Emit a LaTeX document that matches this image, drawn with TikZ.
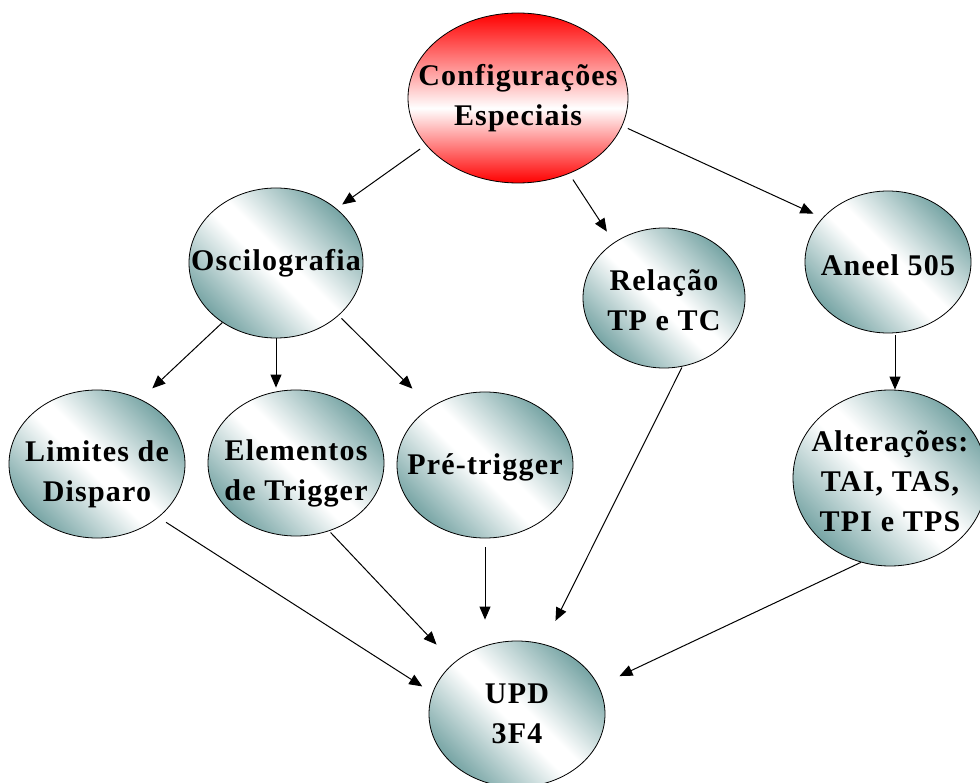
\documentclass[tikz,border=0pt]{standalone}
\usepackage{fontspec}
\setmainfont{Liberation Serif}[LetterSpace=4]
\usetikzlibrary{arrows.meta,shapes.geometric}

\definecolor{bubbleteal}{RGB}{58,124,124}
\definecolor{bubblered}{RGB}{255,0,0}

% diagonal teal-white-teal sheen for the ordinary bubbles
\pgfdeclarehorizontalshading{tealsheen}{100bp}{color(0bp)=(bubbleteal); color(15bp)=(bubbleteal); color(47bp)=(white); color(53bp)=(white); color(85bp)=(bubbleteal); color(100bp)=(bubbleteal)}
% vertical red-white-red sheen for the root bubble
\pgfdeclareverticalshading{redsheen}{100bp}{color(0bp)=(bubblered); color(25bp)=(bubblered); color(47bp)=(white); color(75bp)=(bubblered); color(100bp)=(bubblered)}

\tikzset{
  bubble/.style={ellipse, draw=black, line width=0.8pt, shade, shading=tealsheen,
                 shading angle=45, inner sep=0pt, minimum width=176pt, minimum height=146pt},
  rootbubble/.style={ellipse, draw=black, line width=0.8pt, shade, shading=redsheen,
                 inner sep=0pt, minimum width=220pt, minimum height=170pt},
  caption/.style={font=\bfseries\fontsize{30}{40}\selectfont, align=center, inner sep=0pt},
  link/.style={line width=1pt, -{Triangle[length=13pt,width=11pt]}},
}

\begin{document}
\begin{tikzpicture}[x=1pt,y=-1pt]
  \fill[white] (0,0) rectangle (980,783);
  \useasboundingbox (0,0) rectangle (980,783);

  % nodes
  \node[rootbubble] (cfg) at (518,98) {};
  \node[caption] at (cfg) {Configurações\\Especiais};
  \node[bubble, minimum width=174pt, minimum height=150pt] (osc) at (276,263) {};
  \node[caption] at (osc) {Oscilografia};
  \node[bubble, minimum width=162pt, minimum height=140pt] (rel) at (664,298) {};
  \node[caption] at ([yshift=-2pt]rel.center) {Relação\\TP e TC};
  \node[bubble, minimum width=166pt, minimum height=142pt] (ane) at (888,262) {};
  \node[caption] at ([yshift=-3pt]ane.center) {Aneel 505};
  \node[bubble, minimum height=148pt] (lim) at (97,464) {};
  \node[caption] at ([yshift=-10pt]lim.center) {Limites de\\Disparo};
  \node[bubble] (ele) at (296,463) {};
  \node[caption] at ([yshift=-10pt]ele.center) {Elementos\\de Trigger};
  \node[bubble] (pre) at (485,465) {};
  \node[caption] at ([yshift=-2pt]pre.center) {Pré-trigger};
  \node[bubble, minimum width=194pt, minimum height=176pt] (alt) at (890,478) {};
  \node[caption] at ([yshift=-3pt]alt.center) {Alterações:\\TAI, TAS,\\TPI e TPS};
  \node[bubble] (upd) at (517,714) {};
  \node[caption] at (upd) {UPD\\3F4};

  % connectors
  \draw[link, shorten <=7pt, shorten >=7pt]  (cfg.207) -- (osc.42);
  \draw[link, shorten <=7pt, shorten >=13pt] (cfg.-56) -- (rel.132);
  \draw[link, shorten <=6pt, shorten >=10pt] (cfg.-15) -- (ane.146);

  \draw[link, shorten >=16pt] (osc.228) -- (lim.56);
  \draw[link, shorten >=2pt]  (osc.south) -- (osc.south |- ele.north);
  \draw[link, shorten <=4pt, shorten >=26pt] (osc.-40) -- (pre.133);

  \draw[link, shorten <=2pt] ([xshift=7pt]ane.south) -- ([xshift=7pt]ane.south |- alt.north);

  \draw[link, shorten <=9pt, shorten >=12pt] (lim.-41) -- (upd.166);
  \draw[link, shorten <=2pt, shorten >=25pt] (ele.-64) -- (upd.141);
  \draw[link, shorten <=9pt, shorten >=21pt] (pre.south) -- (pre.south |- upd.north);
  \draw[link, shorten <=1pt, shorten >=26pt] (rel.-75) -- (upd.69);
  \draw[link, shorten >=23pt] (alt.251) -- (upd.19);
\end{tikzpicture}
\end{document}
